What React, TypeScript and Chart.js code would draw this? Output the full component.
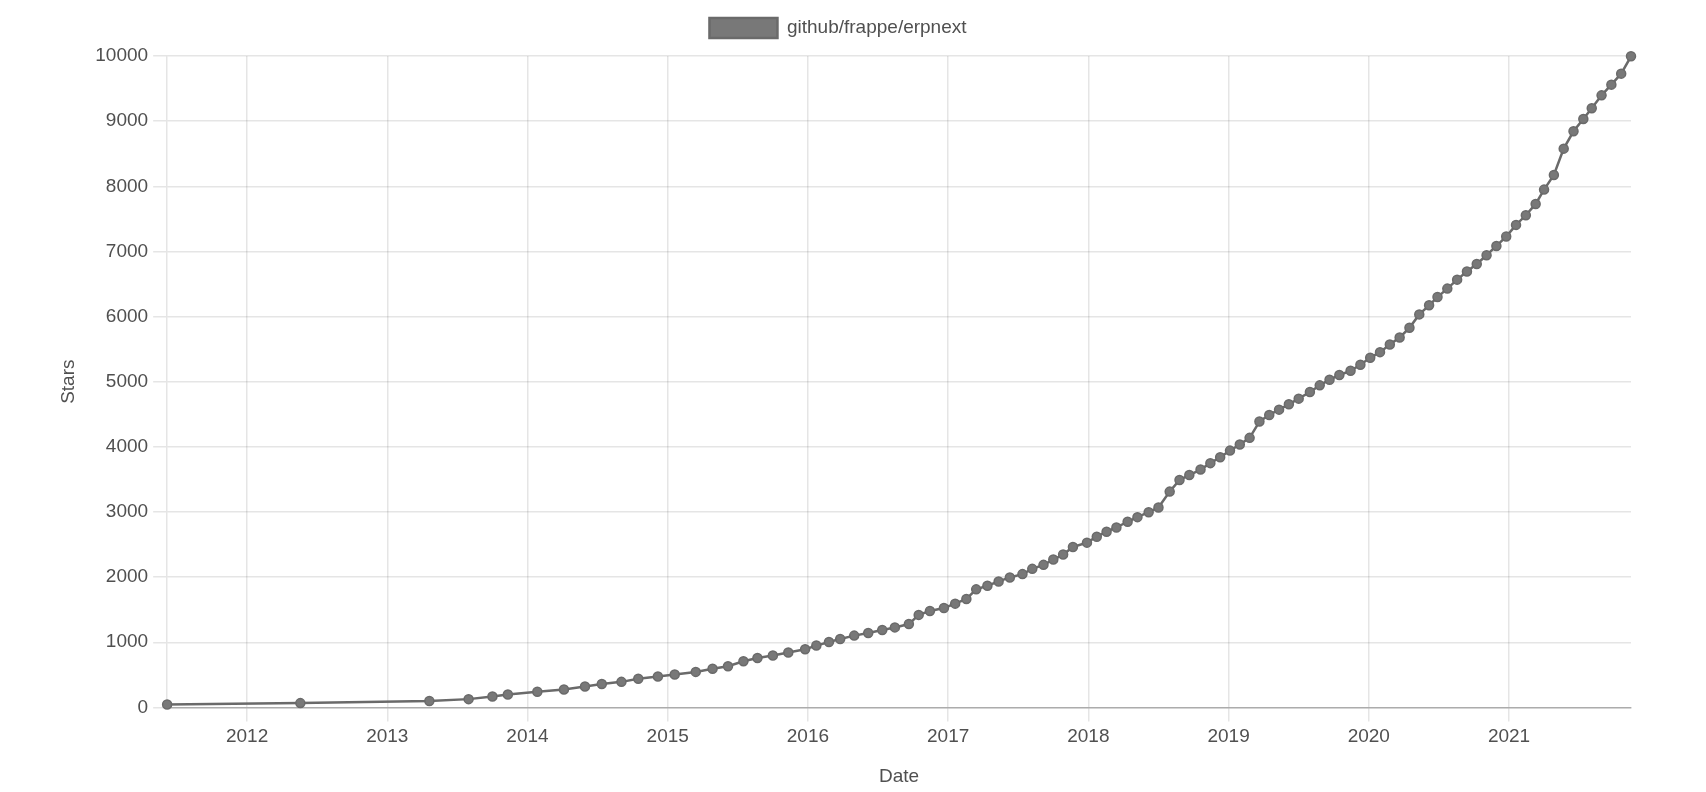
import { useEffect, useRef } from 'react'
import { Chart, registerables } from 'chart.js'

Chart.register(...registerables)

// star-history style data: decimal year of each sample and star count
const repoName = 'github/frappe/erpnext'

const starDates = [
  2011.43, 2012.38, 2013.3, 2013.58, 2013.75, 2013.86, 2014.07, 2014.26, 2014.41,
  2014.53, 2014.67, 2014.79, 2014.93, 2015.05, 2015.2, 2015.32, 2015.43, 2015.54,
  2015.64, 2015.75, 2015.86, 2015.98, 2016.06, 2016.15, 2016.23, 2016.33, 2016.43,
  2016.53, 2016.62, 2016.72, 2016.79, 2016.87, 2016.97, 2017.05, 2017.13, 2017.2,
  2017.28, 2017.36, 2017.44, 2017.53, 2017.6, 2017.68, 2017.75, 2017.82, 2017.89,
  2017.99, 2018.06, 2018.13, 2018.2, 2018.28, 2018.35, 2018.43, 2018.5, 2018.58,
  2018.65, 2018.72, 2018.8, 2018.87, 2018.94, 2019.01, 2019.08, 2019.15, 2019.22,
  2019.29, 2019.36, 2019.43, 2019.5, 2019.58, 2019.65, 2019.72, 2019.79, 2019.87,
  2019.94, 2020.01, 2020.08, 2020.15, 2020.22, 2020.29, 2020.36, 2020.43, 2020.49,
  2020.56, 2020.63, 2020.7, 2020.77, 2020.84, 2020.91, 2020.98, 2021.05, 2021.12,
  2021.19, 2021.25, 2021.32, 2021.39, 2021.46, 2021.53, 2021.59, 2021.66, 2021.73,
  2021.8, 2021.87,
]

const starCounts = [
  45, 66, 97, 127, 168, 198, 239, 275, 320,
  360, 392, 440, 475, 505, 545, 592, 632, 708,
  758, 798, 842, 893, 949, 1005, 1051, 1102, 1142,
  1188, 1228, 1279, 1420, 1479, 1527, 1593, 1664, 1812,
  1868, 1934, 1995, 2046, 2127, 2188, 2270, 2346, 2463,
  2529, 2621, 2697, 2763, 2850, 2921, 2997, 3069, 3313,
  3491, 3567, 3651, 3750, 3840, 3942, 4036, 4138, 4388,
  4490, 4571, 4653, 4740, 4842, 4944, 5031, 5102, 5168,
  5260, 5367, 5454, 5571, 5679, 5827, 6033, 6173, 6299,
  6429, 6567, 6691, 6808, 6941, 7084, 7228, 7407, 7555,
  7729, 7949, 8174, 8578, 8844, 9033, 9197, 9396, 9560,
  9729, 9995,
]

const yMax = 10000
const yStep = 1000

const FONT = "'Liberation Sans', Arial, Helvetica, sans-serif"
const TEXT = '#505050'
const GRID = 'rgba(0,0,0,0.1)'

// extra room under the legend, like the original page had
const legendMargin = {
  id: 'legendMargin',
  beforeInit(chart: any) {
    const legend = chart.legend
    if (!legend) return
    const fit = legend.fit
    legend.fit = function () {
      fit.bind(legend)()
      this.height += 8
    }
  },
}

export default function App() {
  const chartRef = useRef<HTMLCanvasElement | null>(null)

  useEffect(() => {
    let chartInstance: Chart | null = null
    if (chartRef.current) {
      chartInstance = new Chart(chartRef.current, {
        type: 'line',
        data: {
          datasets: [
            {
              label: repoName,
              data: starDates.map((d, i) => ({ x: d, y: starCounts[i] })),
              borderColor: '#6a6a6a',
              backgroundColor: '#787878',
              borderWidth: 2.5,
              pointRadius: 4.5,
              pointBorderWidth: 1.5,
              pointBorderColor: '#6a6a6a',
              pointBackgroundColor: '#787878',
              fill: false,
              tension: 0,
              clip: false,
            },
          ],
        },
        plugins: [legendMargin],
        options: {
          animation: false,
          responsive: true,
          maintainAspectRatio: false,
          layout: {
            padding: { top: 2, left: 45, right: 75, bottom: 0 },
          },
          plugins: {
            legend: {
              position: 'top',
              labels: {
                boxWidth: 68,
                boxHeight: 20,
                padding: 16,
                color: TEXT,
                font: { family: FONT, size: 19 },
              },
            },
            tooltip: { enabled: false },
          },
          scales: {
            x: {
              type: 'linear',
              min: starDates[0],
              max: starDates[starDates.length - 1],
              title: {
                display: true,
                text: 'Date',
                color: TEXT,
                font: { family: FONT, size: 19 },
                padding: { top: 13, bottom: 4 },
              },
              ticks: {
                stepSize: 1,
                includeBounds: false,
                maxRotation: 0,
                padding: 4,
                color: TEXT,
                font: { family: FONT, size: 19 },
                callback: (v) => String(v),
              },
              grid: { color: GRID, lineWidth: 1.5, tickLength: 14 },
              border: { color: 'rgba(0,0,0,0.25)', width: 1.5 },
            },
            y: {
              min: 0,
              max: yMax,
              title: {
                display: true,
                text: 'Stars',
                color: TEXT,
                font: { family: FONT, size: 19 },
                padding: { top: 12.5, bottom: 10 },
              },
              ticks: {
                stepSize: yStep,
                padding: 5,
                color: TEXT,
                font: { family: FONT, size: 19 },
                callback: (v) => String(v),
              },
              grid: { color: GRID, lineWidth: 1.5, tickLength: 14 },
              border: { color: GRID, width: 1.5 },
            },
          },
        },
      })
    }
    return () => {
      if (chartInstance) {
        chartInstance.destroy()
      }
    }
  }, [])

  return (
    <div
      style={{
        position: 'absolute',
        left: 0,
        top: 0,
        width: '1706px',
        height: '792px',
        background: '#fff',
      }}
    >
      <canvas ref={chartRef} />
    </div>
  )
}
